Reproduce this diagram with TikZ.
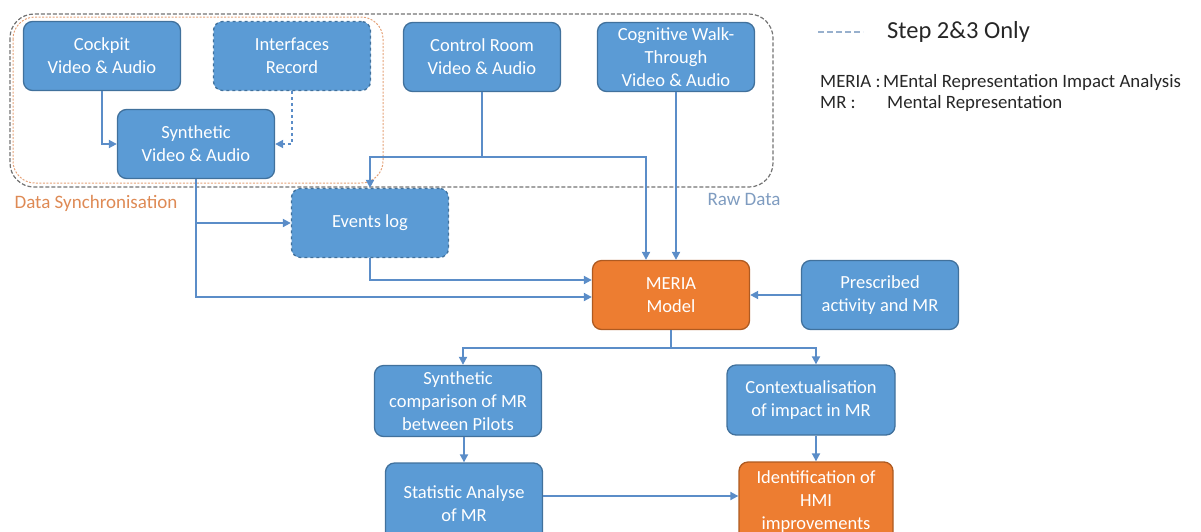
\documentclass[tikz,border=0pt]{standalone}
\usepackage{fontspec}
\setmainfont{Carlito}
\usetikzlibrary{arrows.meta}

\definecolor{boxblue}{HTML}{5B9BD5}
\definecolor{boxedge}{HTML}{41719C}
\definecolor{boxorange}{HTML}{ED7D31}
\definecolor{orangeedge}{HTML}{AE5A21}
\definecolor{linkblue}{HTML}{5B8DC8}
\definecolor{synccol}{HTML}{DE8A55}
\definecolor{rawcol}{HTML}{7F9CC0}
\definecolor{keygray}{HTML}{262626}

\tikzset{
  box/.style={rectangle, rounded corners=9pt, fill=boxblue, draw=boxedge,
    line width=1.3pt, minimum width=157pt, minimum height=69pt, inner sep=2pt,
    text=white, align=center, font=\fontsize{18.5}{23}\selectfont},
  hot/.style={box, fill=boxorange, draw=orangeedge},
  later/.style={dashed},
  link/.style={draw=linkblue, line width=1.8pt, -{Triangle[length=8pt,width=8pt]}},
  key/.style={anchor=west, inner sep=0pt, text=keygray, font=\fontsize{18.8}{21}\selectfont},
}

\begin{document}
\begin{tikzpicture}[x=1pt,y=-1pt]
    \useasboundingbox (0,0) rectangle (1201,531);
    \clip (0,0) rectangle (1201,531);

    % groups
    \draw[gray!90!black, line width=1.2pt, dash pattern=on 4pt off 2pt, rounded corners=24pt] (10,14) rectangle (773,187);
    \draw[synccol!80, line width=1pt, dash pattern=on 2pt off 1.5pt, rounded corners=22pt] (13,17) rectangle (383,183);
    \node[text=synccol, font=\fontsize{19}{21}\selectfont] (synclabel) at (96,203) {Data Synchronisation};
    \node[text=rawcol, font=\fontsize{19}{21}\selectfont] (rawlabel) at (744,199) {Raw Data};

    % boxes
    \node[box] (cockpit) at (102,56) {Cockpit\\Video \& Audio};
    \node[box,later] (interfaces) at (292,56) {Interfaces\\Record};
    \node[box] (synth) at (196,144) {Synthetic\\Video \& Audio};
    \node[box] (control) at (482,57) {Control Room\\Video \& Audio};
    \node[box] (cognitive) at (676,57) {Cognitive Walk-\\Through\\Video \& Audio};
    \node[box,later] (events) at (370,223) {Events log};
    \node[hot] (meria) at (671,295) {MERIA\\Model};
    \node[box] (prescribed) at (880,295) {Prescribed\\activity and MR};
    \node[box, minimum width=167pt, minimum height=71pt] (compare) at (458,401) {Synthetic\\comparison of MR\\between Pilots};
    \node[box, minimum width=168pt, minimum height=70pt] (context) at (811,400) {Contextualisation\\of impact in MR};
    \node[box, minimum height=82pt] (stats) at (464,504) {Statistic Analyse\\of MR};
    \node[hot, minimum width=154pt, minimum height=80pt] (hmi) at (816,502) {Identification of\\HMI\\improvements};

    % connectors
    \coordinate (crsplit) at (482,157);
    \coordinate (tap) at (synth.south |- events.west);
    \coordinate (fork) at (671,348);
    \draw[link] (cockpit.south) |- (synth.west);
    \draw[link,dashed] (interfaces.south) |- (synth.east);
    \draw[link] (control.south) -- (crsplit) -| (events.north);
    \draw[link] (crsplit) -| ([xshift=-25pt]meria.north);
    \draw[link] (cognitive.south) -- (cognitive.south |- meria.north);
    \draw[link] (synth.south) |- ([yshift=-2pt]meria.west);
    \draw[link] (tap) -- (events.west);
    \draw[link] (events.south) |- ([yshift=15pt]meria.west);
    \draw[link] (prescribed.west) -- (meria.east);
    \draw[link] (meria.south) -- (fork) -| ([xshift=5pt]compare.north);
    \draw[link] (fork) -| (hmi.north |- context.north);
    \draw[link] (compare.south -| stats.north) -- (stats.north);
    \draw[link] (context.south -| hmi.north) -- (hmi.north);
    \draw[link] ([yshift=8pt]stats.east) -- ([yshift=8pt]stats.east -| hmi.west);

    % legend
    \draw[rawcol!80, line width=1.5pt, dash pattern=on 6pt off 3pt] (818,32) -- (863,32);
    \node[key, font=\fontsize{24.5}{28}\selectfont] (steplabel) at (887,32) {Step 2\&3 Only};
    \node[key] (meriakey) at (820,82) {MERIA :};
    \node[key] (meriadef) at (883,82) {MEntal Representation Impact Analysis};
    \node[key] (mrkey) at (820,103) {MR :};
    \node[key] (mrdef) at (887,103) {Mental Representation};
\end{tikzpicture}
\end{document}
